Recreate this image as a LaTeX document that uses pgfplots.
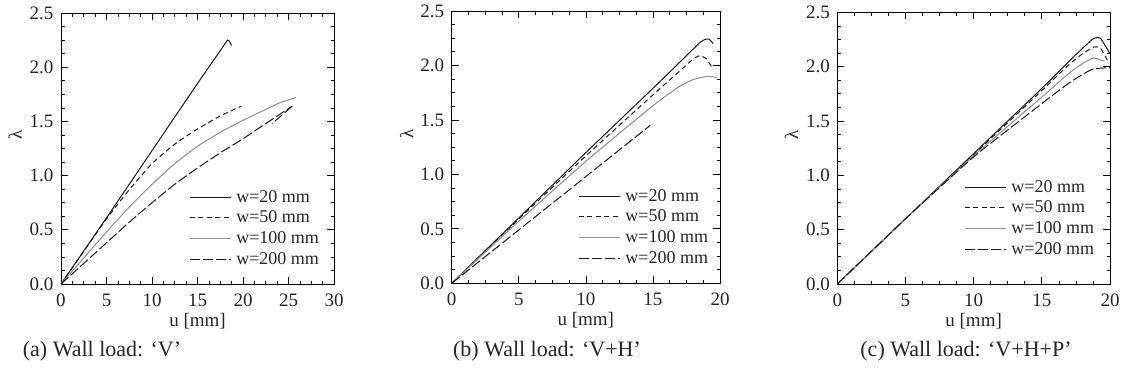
\documentclass[border=0pt]{standalone}
\usepackage{fontspec}
\setmainfont{Liberation Serif}
\usepackage{pgfplots}
\pgfplotsset{compat=1.18}
\newcommand{\tkfont}{\fontsize{19bp}{21bp}\selectfont}
\newcommand{\lgfont}{\fontsize{18bp}{20bp}\selectfont}
\newcommand{\capfont}{\fontsize{22bp}{24bp}\selectfont}
\pgfplotsset{
  panel/.style={
    scale only axis,
    anchor=south west,
    ymin=0, ymax=2.5, ytick={0,0.5,...,2.5},
    xmin=0,
    minor x tick num=3, minor y tick num=3,
    tick align=inside,
    major tick length=7bp, minor tick length=3.5bp,
    every tick/.style={black, line width=0.7bp},
    axis line style={line width=0.8bp},
    /pgf/number format/assume math mode=true,
    tick label style={font=\tkfont, black!85},
    label style={font=\tkfont, black!85},
    yticklabel style={/pgf/number format/fixed, /pgf/number format/fixed zerofill, /pgf/number format/precision=1, xshift=-4bp},
    xticklabel style={anchor=center, yshift=-16bp, inner sep=1bp},
    xlabel={u [mm]}, ylabel={λ},
    xlabel style={at={(axis description cs:0.5,-0.137)}, anchor=center, inner sep=0pt},
    ylabel style={at={(axis description cs:-0.168,0.55)}, anchor=center},
    legend style={draw=none, fill=none, anchor=north west, font=\lgfont, text=black!85,
      nodes={inner sep=0pt, text height=13bp, text depth=3bp},
      row sep=4.7bp, column sep=5bp},
    legend cell align=left,
    legend image code/.code={\draw[##1] (0bp,0bp) -- (41bp,0bp);},
  },
  s20/.style={black!90, line width=1bp},
  s50/.style={black!90, line width=1bp, dash pattern=on 5bp off 3.5bp},
  s100/.style={black!42, line width=1.1bp},
  s200/.style={black!90, line width=1bp, dash pattern=on 10bp off 3bp},
}
\begin{document}
\begin{tikzpicture}
\useasboundingbox (0,0) rectangle (1123bp,-392bp);
% (a)
\begin{axis}[panel, at={(61bp,-284bp)}, width=273bp, height=271bp,
  xmax=30, xtick={0,5,...,30},
  legend style={at={(0.458,0.358)}}]
\addplot[s20] coordinates {(0,0) (5,0.61) (10,1.23) (15,1.85) (18.3,2.25) (18.5,2.24) (18.75,2.20)};
\addlegendentry{w=20 mm}
\addplot[s50, smooth, tension=0.4] coordinates {(0,0) (2.5,0.3) (5,0.6) (7.5,0.87) (10,1.11) (12.5,1.29) (15,1.43) (17.5,1.55) (19.8,1.64)};
\addlegendentry{w=50 mm}
\addplot[s100, smooth, tension=0.4] coordinates {(0,0) (2.5,0.24) (5,0.48) (7.5,0.71) (10,0.92) (12.5,1.11) (15,1.27) (17.5,1.40) (20,1.51) (22.5,1.61) (24,1.67) (25.8,1.72)};
\addlegendentry{w=100 mm}
\addplot[s200, smooth, tension=0.4] coordinates {(0,0) (2.5,0.19) (5,0.38) (7.5,0.57) (10,0.75) (12.5,0.92) (15,1.07) (17.5,1.21) (20,1.34) (22.5,1.48) (25.4,1.64)};
\addlegendentry{w=200 mm}
\addplot[s200, forget plot] coordinates {(25.4,1.64) (23.2,1.48)};
\end{axis}
% (b)
\begin{axis}[panel, at={(451.7bp,-283.3bp)}, width=268.3bp, height=272.3bp,
  xmax=20, xtick={0,5,...,20},
  legend style={at={(0.46,0.357)}}]
\addplot[s20, smooth, tension=0.3] coordinates {(0,0) (5,0.6) (10,1.2) (15,1.79) (17,2.03) (18,2.15) (18.5,2.21) (18.9,2.24) (19.2,2.24) (19.5,2.20)};
\addlegendentry{w=20 mm}
\addplot[s50, smooth, tension=0.3] coordinates {(0,0) (5,0.59) (10,1.17) (15,1.73) (17,1.95) (18,2.06) (18.5,2.09) (19,2.06) (19.4,1.98)};
\addlegendentry{w=50 mm}
\addplot[s100, smooth, tension=0.3] coordinates {(0,0) (5,0.57) (10,1.12) (15,1.63) (17,1.81) (18,1.87) (19,1.90) (19.8,1.89)};
\addlegendentry{w=100 mm}
\addplot[s200] coordinates {(0,0) (5,0.49) (10,0.98) (14.8,1.45)};
\addlegendentry{w=200 mm}
\end{axis}
% (c)
\begin{axis}[panel, at={(837.3bp,-284bp)}, width=272.7bp, height=271.7bp,
  xmax=20, xtick={0,5,...,20},
  legend style={at={(0.454,0.394)}}]
\addplot[s20, smooth, tension=0.3] coordinates {(0,0) (5,0.6) (10,1.2) (15,1.8) (17,2.05) (18,2.17) (18.8,2.26) (19.3,2.26) (20,2.12)};
\addlegendentry{w=20 mm}
\addplot[s50, smooth, tension=0.3] coordinates {(0,0) (5,0.6) (10,1.19) (15,1.78) (17,2.02) (18,2.12) (18.8,2.18) (19.3,2.17) (19.8,2.06)};
\addlegendentry{w=50 mm}
\addplot[s100, smooth, tension=0.3] coordinates {(0,0) (5,0.6) (10,1.18) (15,1.72) (17,1.94) (18,2.03) (18.8,2.08) (19.6,2.05)};
\addlegendentry{w=100 mm}
\addplot[s200, smooth, tension=0.3] coordinates {(0,0) (5,0.6) (10,1.17) (15,1.66) (17,1.85) (18,1.93) (18.8,1.98) (20,1.99)};
\addlegendentry{w=200 mm}
\end{axis}
\node[font=\capfont, inner sep=0pt, text=black!85] at (102bp,-351bp) {(a) Wall load: ‘V’};
\node[font=\capfont, inner sep=0pt, text=black!85] at (547bp,-351bp) {(b) Wall load: ‘V+H’};
\node[font=\capfont, inner sep=0pt, text=black!85] at (966bp,-351bp) {(c) Wall load: ‘V+H+P’};
\end{tikzpicture}
\end{document}
